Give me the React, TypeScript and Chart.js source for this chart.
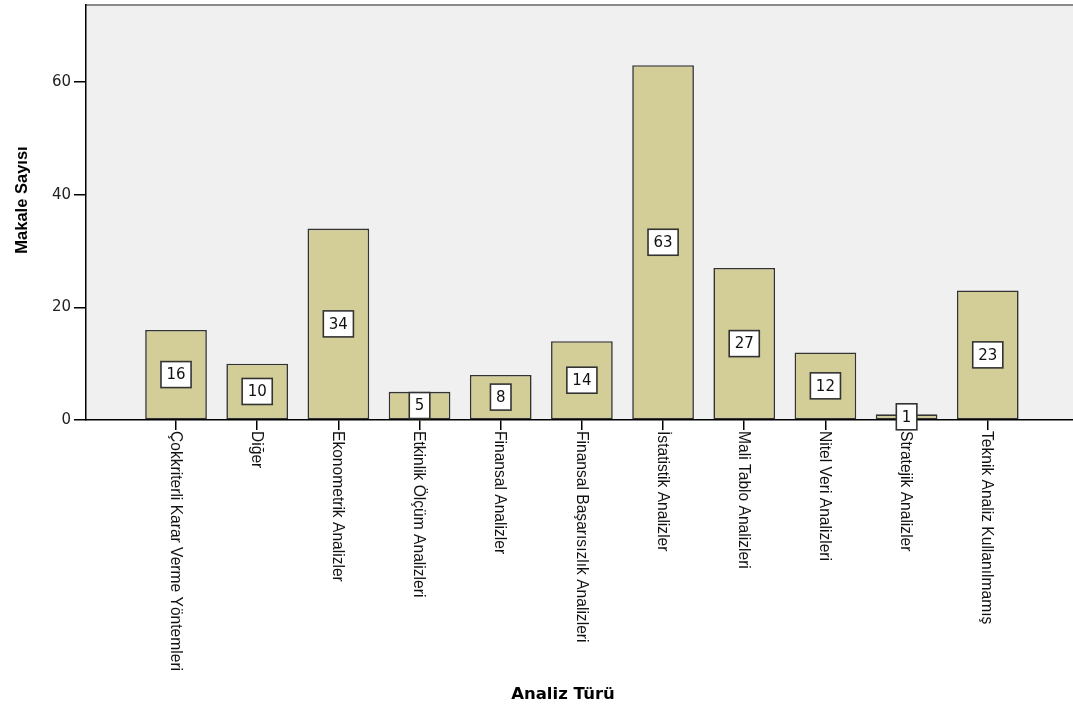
import React, { useEffect, useRef } from "react";
import { Chart, registerables } from "chart.js";

Chart.register(...registerables);

const categories: string[] = [
  "Çokkriterli Karar Verme Yöntemleri",
  "Diğer",
  "Ekonometrik Analizler",
  "Etkinlik Ölçüm Analizleri",
  "Finansal Analizler",
  "Finansal Başarısızlık Analizleri",
  "İstatistik Analizler",
  "Mali Tablo Analizleri",
  "Nitel Veri Analizleri",
  "Stratejik Analizler",
  "Teknik Analiz Kullanılmamış",
];
const makaleSayisi: number[] = [16, 10, 34, 5, 8, 14, 63, 27, 12, 1, 23];
const yTickValues: number[] = [0, 20, 40, 60];
const yAxisTitle = "Makale Sayısı";
const xAxisTitle = "Analiz Türü";

const BAR_FILL = "#d3ce97";
const PLOT_BG = "#f0f0f0";

const plotBackground = {
  id: "plotBackground",
  beforeDraw(chart: any) {
    const { ctx, chartArea } = chart;
    ctx.save();
    ctx.fillStyle = PLOT_BG;
    ctx.fillRect(chartArea.left, chartArea.top, chartArea.right - chartArea.left, chartArea.bottom - chartArea.top);
    ctx.strokeStyle = "#8a8a8a";
    ctx.lineWidth = 2;
    ctx.beginPath();
    ctx.moveTo(chartArea.left, chartArea.top);
    ctx.lineTo(chartArea.right, chartArea.top);
    ctx.stroke();
    ctx.restore();
  },
};

const valueBoxes = {
  id: "valueBoxes",
  afterDatasetsDraw(chart: any) {
    const { ctx } = chart;
    const meta = chart.getDatasetMeta(0);
    ctx.save();
    ctx.font = "15px 'DejaVu Sans'";
    meta.data.forEach((el: any, i: number) => {
      const p = el.getProps(["x", "y", "base"], true);
      const cy = (p.y + p.base) / 2;
      const txt = String(makaleSayisi[i]);
      const tw = ctx.measureText(txt).width;
      const w = tw + 11;
      const h = 26;
      ctx.fillStyle = "#ffffff";
      ctx.fillRect(p.x - w / 2, cy - h / 2, w, h);
      ctx.strokeStyle = "#333333";
      ctx.lineWidth = 1.6;
      ctx.strokeRect(p.x - w / 2, cy - h / 2, w, h);
      ctx.fillStyle = "#111111";
      ctx.textAlign = "center";
      ctx.textBaseline = "middle";
      ctx.fillText(txt, p.x, cy + 1);
    });
    ctx.restore();
  },
};

const textLayer = {
  id: "textLayer",
  afterDraw(chart: any) {
    const { ctx, chartArea } = chart;
    const xs = chart.scales.x;
    ctx.save();
    ctx.fillStyle = "#111111";
    ctx.font = "15.6px 'Liberation Sans'";
    ctx.textAlign = "left";
    ctx.textBaseline = "middle";
    categories.forEach((c, i) => {
      const x = xs.getPixelForValue(i);
      ctx.save();
      ctx.translate(x - 1, chartArea.bottom + 11);
      ctx.rotate(Math.PI / 2);
      ctx.fillText(c, 0, 0);
      ctx.restore();
    });
    ctx.font = "bold 16.5px 'DejaVu Sans'";
    ctx.textAlign = "center";
    ctx.textBaseline = "middle";
    ctx.fillStyle = "#000000";
    ctx.fillText(xAxisTitle, 563, 695);
    ctx.save();
    ctx.translate(22, 200);
    ctx.rotate(-Math.PI / 2);
    ctx.font = "bold 16.5px 'Liberation Sans'";
    ctx.fillText(yAxisTitle, 0, 0);
    ctx.restore();
    ctx.restore();
  },
};

export default function App() {
  const ref = useRef<HTMLCanvasElement | null>(null);
  useEffect(() => {
    if (!ref.current) return;
    const chart = new Chart(ref.current, {
      type: "bar",
      data: {
        datasets: [
          {
            data: categories.map((_, i) => ({ x: i, y: makaleSayisi[i] })),
            backgroundColor: BAR_FILL,
            borderColor: "#333333",
            borderWidth: 1.6,
            borderSkipped: false,
            barPercentage: 0.76,
            categoryPercentage: 1,
          },
        ],
      },
      options: {
        animation: false,
        responsive: true,
        maintainAspectRatio: false,
        layout: { padding: { top: 5, left: 0, right: 0, bottom: 0 } },
        plugins: { legend: { display: false }, tooltip: { enabled: false } },
        scales: {
          x: {
            type: "linear",
            offset: false,
            min: -1.109,
            max: 11.05,
            afterBuildTicks: (s: any) => {
              s.ticks = categories.map((_, i) => ({ value: i }));
            },
            afterFit: (s: any) => {
              s.height = 290;
              s.paddingLeft = 0;
              s.paddingRight = 0;
            },
            ticks: { display: false },
            grid: { offset: false, drawOnChartArea: false, drawTicks: true, tickLength: 10, color: "#000", lineWidth: 1.5 },
            border: { display: true, color: "#000", width: 1.5 },
          },
          y: {
            min: 0,
            max: 73.7,
            afterBuildTicks: (s: any) => {
              s.ticks = yTickValues.map((v) => ({ value: v }));
            },
            afterFit: (s: any) => {
              s.width = 86;
              s.paddingTop = 0;
              s.paddingBottom = 0;
            },
            ticks: { font: { family: "'DejaVu Sans'", size: 15 }, color: "#222", padding: 3 },
            grid: { drawOnChartArea: false, drawTicks: true, tickLength: 12, color: "#000", lineWidth: 1.5 },
            border: { display: true, color: "#000", width: 1.5 },
          },
        },
      },
      plugins: [plotBackground, valueBoxes, textLayer],
    });
    return () => chart.destroy();
  }, []);
  return (
    <div style={{ position: "fixed", left: 0, top: 0, width: 1073, height: 710, background: "#fff" }}>
      <canvas ref={ref} />
    </div>
  );
}
